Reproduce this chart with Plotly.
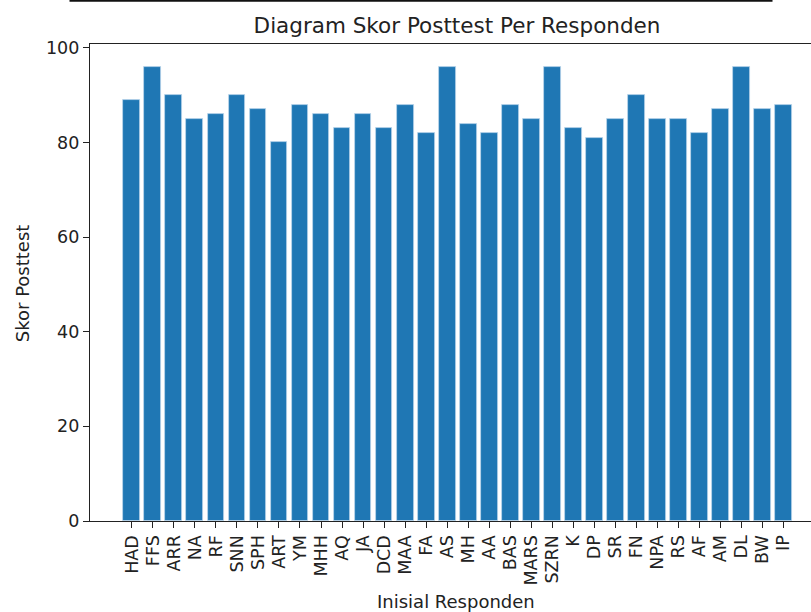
import plotly.graph_objects as go

categories = ["HAD", "FFS", "ARR", "NA", "RF", "SNN", "SPH", "ART", "YM", "MHH",
              "AQ", "JA", "DCD", "MAA", "FA", "AS", "MH", "AA", "BAS", "MARS",
              "SZRN", "K", "DP", "SR", "FN", "NPA", "RS", "AF", "AM", "DL", "BW", "IP"]
scores = [89, 96, 90, 85, 86, 90, 87, 80, 88, 86,
          83, 86, 83, 88, 82, 96, 84, 82, 88, 85,
          96, 83, 81, 85, 90, 85, 85, 82, 87, 96, 87, 88]
y_ticks = [0, 20, 40, 60, 80, 100]

xpos = list(range(len(categories)))
font = "DejaVu Sans"

fig = go.Figure(go.Bar(
    x=xpos, y=scores, width=0.8,
    marker=dict(color="#1f77b4", line=dict(color="rgba(190,215,235,0.9)", width=0.8)),
))

W, H = 811, 612
L, T = 90, 44
bottom_px = 520.6
B = H - bottom_px
plot_w = W - L
plot_h = bottom_px - T

fig.update_layout(
    width=W, height=H,
    margin=dict(l=L, r=0, t=T, b=B, pad=0),
    plot_bgcolor="white", paper_bgcolor="white",
    showlegend=False,
    bargap=0,
    font=dict(family=font, size=18, color="#222"),
    title=dict(text="Diagram Skor Posttest Per Responden",
               x=(457 - L) / plot_w, xref="paper", xanchor="center",
               y=1 - 25 / H, yref="container", yanchor="middle",
               font=dict(family=font, size=21.5, color="#222")),
    xaxis=dict(
        range=[-1.99, -1.99 + plot_w / 21.02],
        tickmode="array", tickvals=xpos, ticktext=categories,
        tickangle=-90, ticks="outside", ticklen=6, tickwidth=1.3, tickcolor="#222",
        showline=True, linecolor="#222", linewidth=1.4, mirror=True,
        showgrid=False, zeroline=False,
        tickfont=dict(family=font, size=17.5, color="#222"),
    ),
    yaxis=dict(
        range=[0, 100.8],
        tickmode="array", tickvals=y_ticks,
        ticks="outside", ticklen=6, tickwidth=1.3, tickcolor="#222",
        showline=True, linecolor="#222", linewidth=1.4,
        showgrid=False, zeroline=False,
        tickfont=dict(family=font, size=17.5, color="#222"),
    ),
    annotations=[
        dict(text="Inisial Responden", xref="paper", yref="paper",
             x=(456 - L) / plot_w, y=-(601.5 - bottom_px) / plot_h,
             xanchor="center", yanchor="middle", showarrow=False,
             font=dict(family=font, size=18, color="#222")),
        dict(text="Skor Posttest", xref="paper", yref="paper",
             x=-(L - 22) / plot_w, y=1 - (283 - T) / plot_h,
             xanchor="center", yanchor="middle", showarrow=False, textangle=-90,
             font=dict(family=font, size=18, color="#222")),
    ],
    shapes=[
        dict(type="line", xref="paper", yref="paper",
             x0=(69.5 - L) / plot_w, x1=(772.5 - L) / plot_w,
             y0=1 + (T - 0.8) / plot_h, y1=1 + (T - 0.8) / plot_h,
             line=dict(color="#111", width=2)),
    ],
)

fig.write_html("out.html",
               config={"displayModeBar": False},
               post_script="document.body.style.margin='0';document.body.style.overflow='hidden';")
